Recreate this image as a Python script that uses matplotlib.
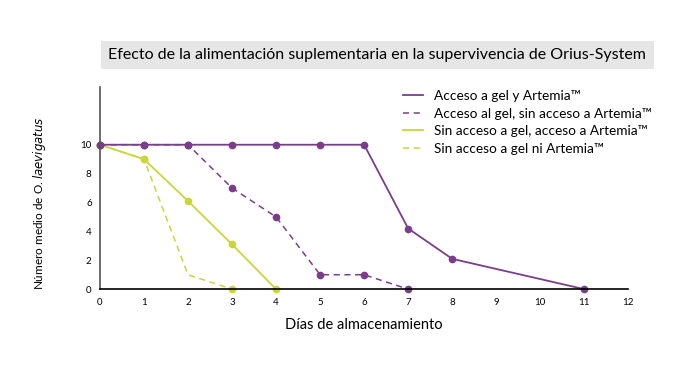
"""Supervivencia de O. laevigatus segun alimentacion suplementaria."""

import matplotlib
matplotlib.use("Agg")
import matplotlib.pyplot as plt

plt.rcParams["font.family"] = ["Lato", "DejaVu Sans"]

PURPLE = "#7a3d8c"
YELLOW = "#c8d63a"

# data
dias_gel_art = [0, 1, 2, 3, 4, 5, 6, 7, 8, 11]
gel_art = [10, 10, 10, 10, 10, 10, 10, 4.2, 2.1, 0]

dias_gel = [0, 1, 2, 3, 4, 5, 6, 7]
gel = [10, 10, 10, 7, 5, 1, 1, 0]

dias_art = [0, 1, 2, 3, 4]
art = [10, 9, 6.1, 3.1, 0]

dias_nada = [0, 1, 2, 3]
nada = [10, 9, 1, 0]

labels = [
    "Acceso a gel y Artemia\u2122",
    "Acceso al gel, sin acceso a Artemia\u2122",
    "Sin acceso a gel, acceso a Artemia\u2122",
    "Sin acceso a gel ni Artemia\u2122",
]

fig = plt.figure(figsize=(6.8, 3.78), dpi=100)
ax = fig.add_axes([0.147, 0.235, 0.777, 0.535])

ms = 4.5
ax.plot(dias_nada, nada, color=YELLOW, ls=(0, (4, 3)), lw=1.1,
        marker="o", ms=ms, markevery=[0, 1, 3], label=labels[3])
ax.plot(dias_art, art, color=YELLOW, lw=1.3, marker="o", ms=ms,
        label=labels[2])
ax.plot(dias_gel, gel, color=PURPLE, ls=(0, (4, 3)), lw=1.1,
        marker="o", ms=ms, label=labels[1])
ax.plot(dias_gel_art, gel_art, color=PURPLE, lw=1.3, marker="o", ms=ms,
        label=labels[0])

ax.set_xlim(0, 12)
ax.set_ylim(0, 14)
ax.set_xticks(range(0, 13))
ax.set_yticks(range(0, 11, 2))
ax.tick_params(length=0, labelsize=7, pad=6)
for side in ("top", "right"):
    ax.spines[side].set_visible(False)
ax.spines["left"].set_color("#555555")
ax.spines["bottom"].set_color("black")
ax.spines["left"].set_linewidth(1.2)
ax.spines["bottom"].set_linewidth(1.2)
for m in ax.lines:
    m.set_clip_on(False)

ax.set_xlabel("Días de almacenamiento", fontsize=10.5, labelpad=8)
ax.set_ylabel(r"Número medio de O. $\it{laevigatus}$", fontsize=8.5)
ax.yaxis.set_label_coords(-0.098, 0.425)

handles, labs = ax.get_legend_handles_labels()
order = [3, 2, 1, 0]
leg = ax.legend([handles[i] for i in order], [labs[i] for i in order],
                loc="upper left", bbox_to_anchor=(0.55, 1.045), frameon=False,
                fontsize=9.8, handlelength=1.5, labelspacing=0.4,
                handletextpad=0.8)
for h in leg.legend_handles:
    h.set_marker("")

fig.text(0.555, 0.855, "Efecto de la alimentación suplementaria en la supervivencia de Orius-System",
         ha="center", va="center", fontsize=11.5,
         bbox=dict(boxstyle="square,pad=0.45", facecolor="#e6e6e6", edgecolor="none"))

fig.savefig("out.png", dpi=100)
